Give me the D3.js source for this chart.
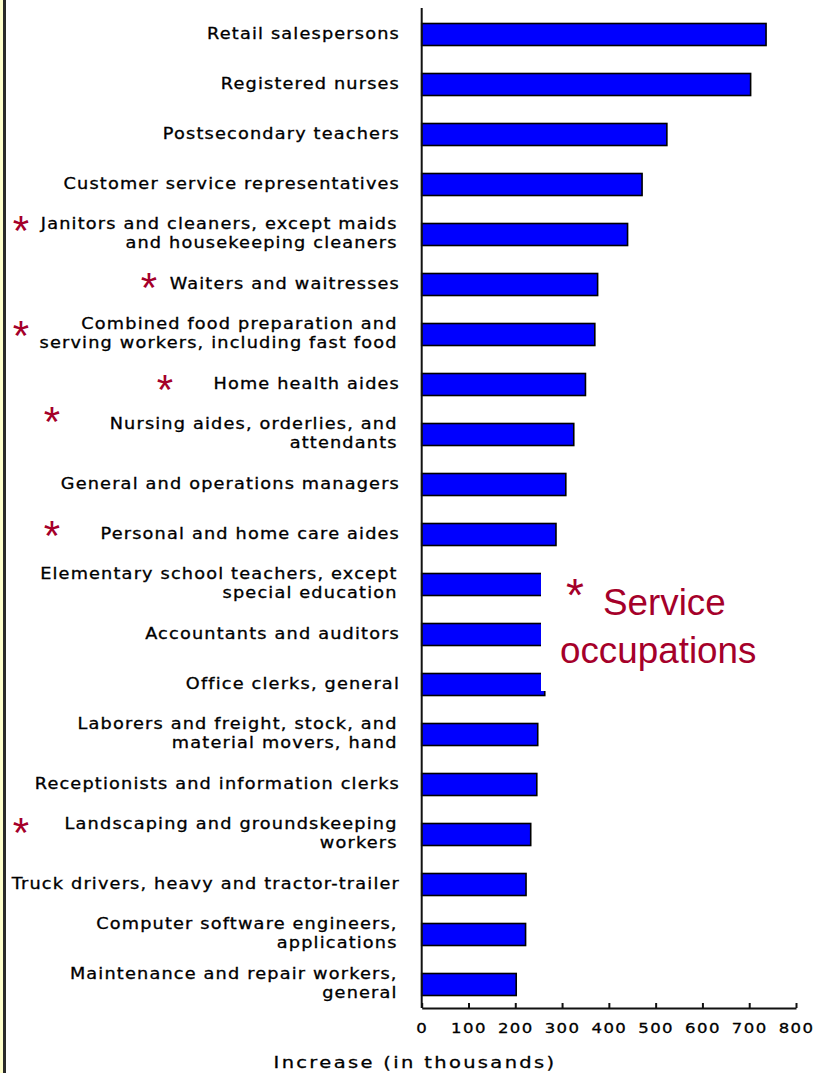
<!DOCTYPE html>
<html>
<head>
<meta charset="utf-8">
<script src="https://cdn.jsdelivr.net/npm/d3@7"></script>
<style>
  html, body { margin: 0; padding: 0; background: #ffffff; }
  svg { display: block; }
  .lbl { font-family: "DejaVu Sans", sans-serif; font-size: 15px; letter-spacing: 1px; fill: #000; stroke: #000; stroke-width: 0.3px; }
  .tick text { font-family: "DejaVu Sans", sans-serif; font-size: 14px; letter-spacing: 1.2px; fill: #000; stroke: #000; stroke-width: 0.3px; }
</style>
</head>
<body>
<script>
// Occupations with the largest projected job growth (increase in thousands)
const categories = [
  "Retail salespersons",
  "Registered nurses",
  "Postsecondary teachers",
  "Customer service representatives",
  "Janitors and cleaners, except maids\nand housekeeping cleaners",
  "Waiters and waitresses",
  "Combined food preparation and\nserving workers, including fast food",
  "Home health aides",
  "Nursing aides, orderlies, and\nattendants",
  "General and operations managers",
  "Personal and home care aides",
  "Elementary school teachers, except\nspecial education",
  "Accountants and auditors",
  "Office clerks, general",
  "Laborers and freight, stock, and\nmaterial movers, hand",
  "Receptionists and information clerks",
  "Landscaping and groundskeeping\nworkers",
  "Truck drivers, heavy and tractor-trailer",
  "Computer software engineers,\napplications",
  "Maintenance and repair workers,\ngeneral"
];
const increases = [736, 703, 524, 471, 440, 376, 370, 350, 325, 308, 287, 265, 264, 263, 248, 246, 233, 223, 222, 202];
const isService = [false, false, false, false, true, true, true, true, true, false, true, false, false, false, false, false, true, false, false, false];
const xTicks = [0, 100, 200, 300, 400, 500, 600, 700, 800];
const xTitle = "Increase (in thousands)";
const legendLines = ["Service", "occupations"];

// Hand-placed asterisk markers beside service occupations (x, offset from band centre)
const starPlacement = {
  4: [21, -8], 5: [149, -1], 6: [21, -3], 7: [165, 1],
  8: [52, -17], 10: [52, -3], 16: [21, -6]
};

const W = 817, H = 1073;
const widen = 1.18; // labels are set in a wide face
const markColor = "#a5002a";
const legendFont = "'Liberation Sans', Arial, sans-serif";
const svg = d3.select("body").append("svg").attr("width", W).attr("height", H);

// left page edge: pale strip and dark rule
svg.append("rect").attr("x", 0).attr("y", 0).attr("width", 3).attr("height", H).attr("fill", "#ffffcc");
svg.append("rect").attr("x", 3).attr("y", 0).attr("width", 3).attr("height", H).attr("fill", "#2a2a2a");

const x = d3.scaleLinear().domain([0, 800]).range([421.7, 796]);
const y = d3.scaleBand().domain(d3.range(categories.length)).range([9.5, 1009.5]).paddingInner(0.56).paddingOuter(0.28);
const axisY = 1008;

// bars
svg.append("g").selectAll("rect").data(increases).join("rect")
  .attr("x", x(0))
  .attr("y", (d, i) => y(i))
  .attr("width", d => x(d) - x(0))
  .attr("height", y.bandwidth())
  .attr("fill", "#0000ff")
  .attr("stroke", "#000")
  .attr("stroke-width", 1.6);

// category labels, right-aligned against the axis
const lab = svg.append("g").attr("transform", `translate(400,0) scale(${widen},1)`);
categories.forEach((c, i) => {
  const lines = c.split("\n");
  const cy = y(i) + y.bandwidth() / 2;
  const t = lab.append("text").attr("class", "lbl").attr("text-anchor", "end");
  lines.forEach((ln, k) => {
    const off = lines.length === 1 ? 0 : (k === 0 ? -9.5 : 9.5);
    t.append("tspan").attr("x", lines.length === 1 ? 0 : -2).attr("y", cy + off + 4.5).text(ln);
  });
});

// service markers
const markSize = 42;
categories.forEach((c, i) => {
  if (!isService[i]) return;
  const p = starPlacement[i];
  const cy = y(i) + y.bandwidth() / 2;
  svg.append("text")
    .attr("x", p[0]).attr("y", cy + p[1] + 0.45 * markSize)
    .attr("text-anchor", "middle")
    .attr("font-family", legendFont)
    .attr("font-size", markSize)
    .attr("fill", markColor)
    .text("*");
});

// vertical axis line
svg.append("line").attr("x1", x(0)).attr("x2", x(0)).attr("y1", 8).attr("y2", axisY)
  .attr("stroke", "#111").attr("stroke-width", 2);

// bottom axis
const ax = svg.append("g").attr("transform", `translate(0,${axisY})`)
  .call(d3.axisBottom(x).tickValues(xTicks).tickSizeInner(-5).tickSizeOuter(0).tickPadding(15));
ax.attr("font-family", null).attr("font-size", null);
ax.select(".domain").attr("stroke", "#111").attr("stroke-width", 2);
ax.selectAll(".tick line").attr("stroke", "#111").attr("stroke-width", 2);
ax.selectAll(".tick text").attr("transform", `scale(${widen},1)`);

svg.append("g").attr("transform", `translate(415,1068) scale(${widen},1)`)
  .append("text").attr("class", "lbl")
  .attr("x", 0).attr("y", 0).attr("text-anchor", "middle")
  .style("font-size", "16.5px").style("letter-spacing", "2px")
  .text(xTitle);

// legend panel laid over the middle bars
const lg = svg.append("g");
lg.append("rect").attr("x", 541).attr("y", 550).attr("width", 276).attr("height", 141).attr("fill", "#ffffff");
lg.append("text").attr("x", 575).attr("y", 611)
  .attr("text-anchor", "middle")
  .attr("font-family", legendFont).attr("font-size", 46)
  .attr("fill", markColor).text("*");
lg.append("text").attr("x", 603).attr("y", 615)
  .attr("font-family", legendFont).attr("font-size", 36.8)
  .attr("fill", markColor).text(legendLines[0]);
lg.append("text").attr("x", 560).attr("y", 663)
  .attr("font-family", legendFont).attr("font-size", 36.8)
  .attr("fill", markColor).text(legendLines[1]);
</script>
</body>
</html>
